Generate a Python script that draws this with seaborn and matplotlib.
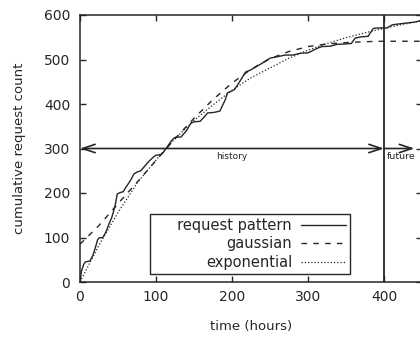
import numpy as np
import pandas as pd
import seaborn as sns
import matplotlib
matplotlib.use('Agg')
import matplotlib.pyplot as plt

req_t = [0, 2, 5, 7, 13, 17, 20, 23, 25, 30, 34, 38, 42, 46, 49, 53, 57, 60, 64, 67,
         71, 75, 80, 85, 90, 96, 100, 106, 110, 114, 121, 125, 133, 140, 146, 150, 158,
         164, 168, 176, 184, 191, 194, 198, 203, 207, 214, 218, 224, 232, 240, 250, 259,
         270, 280, 290, 300, 312, 318, 330, 338, 350, 357, 362, 370, 379, 386, 395, 404,
         411, 425, 440, 450]
req_y = [0, 25, 40, 45, 47, 60, 76, 94, 99, 100, 112, 130, 146, 170, 198, 201, 203, 212,
         222, 230, 243, 247, 250, 260, 270, 280, 285, 286, 292, 302, 319, 325, 326, 340,
         357, 360, 361, 372, 380, 381, 384, 409, 425, 428, 432, 442, 461, 472, 476, 484,
         492, 503, 506, 510, 510, 514, 515, 525, 529, 530, 534, 535, 536, 548, 551, 552,
         570, 571, 571, 578, 581, 584, 588]

# fitted curves
fit_t = [0, 25, 50, 75, 100, 125, 150, 175, 200, 225, 250, 275, 300, 325, 350, 375,
         400, 425, 450]
gauss_y = [85, 127, 176, 224, 273, 322, 368, 410, 447, 478, 502, 518, 529, 535, 538,
           540, 541, 541, 541]
expo_y = [0, 83, 156, 222, 274, 322, 363, 398, 431, 459, 481, 503, 521, 536, 549, 560,
          570, 579, 587]

req = pd.DataFrame({'t': req_t, 'y': req_y})
fits = pd.DataFrame({'t': fit_t, 'gaussian': gauss_y, 'exponential': expo_y})

sns.set_style('ticks')
plt.rcParams['font.family'] = ['DejaVu Sans']

fig = plt.figure(figsize=(4.2, 3.37), dpi=100)
ax = fig.add_axes([80 / 420, 55 / 337, 342 / 420, 267 / 337])

ink = '#262626'
sns.lineplot(data=req, x='t', y='y', ax=ax, color=ink, lw=1.0,
             label='     request pattern')
sns.lineplot(data=fits, x='t', y='gaussian', ax=ax, color=ink, lw=1.0,
             linestyle=(0, (4, 4.5)), label='gaussian')
sns.lineplot(data=fits, x='t', y='exponential', ax=ax, color=ink, lw=0.9,
             linestyle=(0, (1, 1.6)), label='exponential')

ax.set_xlim(0, 450)
ax.set_ylim(0, 600)
ax.set_xticks([0, 100, 200, 300, 400])
ax.set_yticks([0, 100, 200, 300, 400, 500, 600])
ax.tick_params(direction='in', length=4, width=1, top=True, right=True,
               labelsize=10, colors=ink)
ax.tick_params(axis='x', pad=6)
ax.tick_params(axis='y', pad=7)
for s in ax.spines.values():
    s.set_color(ink)
    s.set_linewidth(1.1)

ax.set_xlabel('time (hours)', fontsize=9.5, color=ink, labelpad=11)
ax.set_ylabel('cumulative request count', fontsize=9.5, color=ink, labelpad=13)

# history / future split
ax.axvline(400, color=ink, lw=1.3)
ax.annotate('', xy=(0, 300), xytext=(400, 300),
            arrowprops=dict(arrowstyle='<->,head_length=0.9,head_width=0.3',
                            color=ink, lw=1.2, shrinkA=0, shrinkB=0))
ax.annotate('', xy=(440, 300), xytext=(400, 300),
            arrowprops=dict(arrowstyle='->,head_length=0.9,head_width=0.3',
                            color=ink, lw=1.2, shrinkA=0, shrinkB=0))
ax.text(200, 292, 'history', fontsize=6.5, ha='center', va='top', color=ink)
ax.text(404, 292, 'future', fontsize=6.8, ha='left', va='top', color=ink)

leg = ax.legend(loc='lower left', bbox_to_anchor=(0.205, 0.03), borderaxespad=0,
                markerfirst=False, fancybox=False, framealpha=1, edgecolor=ink,
                fontsize=10.5, handlelength=3.1, handletextpad=0.6,
                labelspacing=0.22, borderpad=0.3)
leg.get_frame().set_linewidth(1.0)

fig.savefig('out.png', dpi=100)
